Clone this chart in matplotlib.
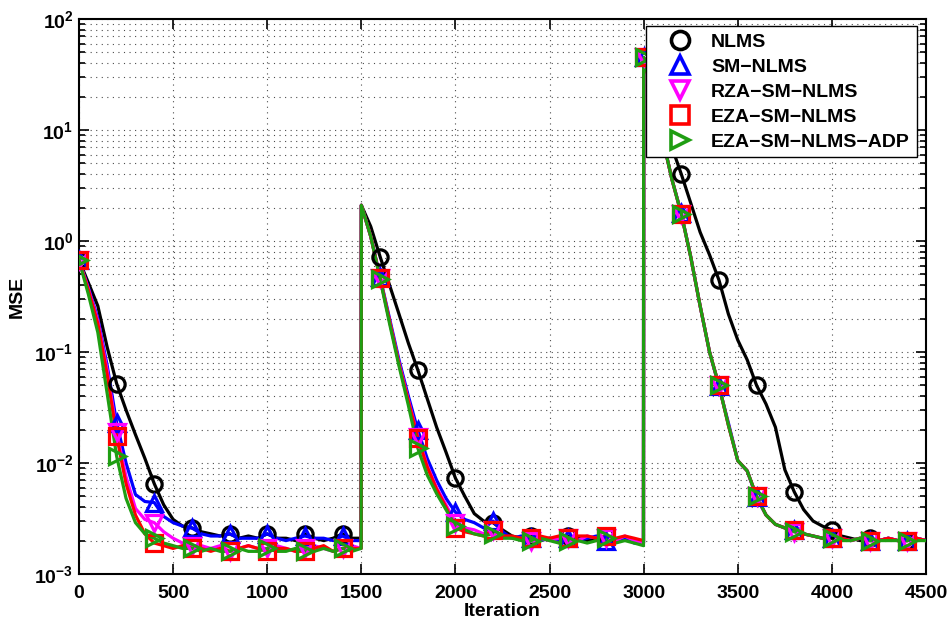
import numpy as np
import matplotlib
matplotlib.use("Agg")
import matplotlib.pyplot as plt
from matplotlib.lines import Line2D
from matplotlib.ticker import LogLocator, FixedLocator, NullLocator

plt.rcParams['font.family'] = ['Liberation Sans', 'DejaVu Sans']
plt.rcParams['font.weight'] = 'bold'
plt.rcParams['mathtext.fontset'] = 'custom'
plt.rcParams['mathtext.rm'] = 'Liberation Sans:bold'
plt.rcParams['mathtext.bf'] = 'Liberation Sans:bold'
plt.rcParams['mathtext.it'] = 'Liberation Sans:bold'
plt.rcParams['mathtext.default'] = 'bf'

# ---- iteration grid (three 1500-sample blocks, jump at 1500 and 3000) ----
seg1_x = list(range(0, 1500, 50)) + [1499]
seg2_x = list(range(1500, 3000, 50)) + [2999]
seg3_x = list(range(3000, 4550, 50))
iters = np.array(seg1_x + seg2_x + seg3_x)

# ---- MSE values ----
nlms = [0.67, 0.42, 0.26, 0.11, 0.052, 0.030, 0.018, 0.011, 0.0065, 0.0042, 0.0031, 0.0027, 0.0026, 0.0024, 0.0023, 0.0022,
        0.0023, 0.0021, 0.0022, 0.0021, 0.0023, 0.0021, 0.0021, 0.0020, 0.0023, 0.0021, 0.0020, 0.0021, 0.0023, 0.0021, 0.0021,
        2.1, 1.35, 0.72, 0.40, 0.22, 0.12, 0.069, 0.038, 0.021, 0.0125, 0.0073, 0.0050, 0.0035, 0.0030, 0.0029, 0.0025,
        0.0022, 0.0021, 0.0022, 0.0020, 0.0021, 0.0020, 0.0022, 0.0021, 0.0020, 0.0021, 0.0022, 0.0020, 0.0021, 0.0020, 0.0019,
        45.0, 22.0, 12.0, 7.0, 4.0, 2.2, 1.2, 0.75, 0.445, 0.22, 0.128, 0.085, 0.050, 0.034, 0.021, 0.0087,
        0.0055, 0.0038, 0.0030, 0.0027, 0.0025, 0.0022, 0.0021, 0.0020, 0.0021, 0.0020, 0.0021, 0.0020, 0.0020, 0.0021, 0.0020]

sm_nlms = [0.67, 0.38, 0.20, 0.075, 0.023, 0.010, 0.0052, 0.0045, 0.0044, 0.0033, 0.0029, 0.0027, 0.0026, 0.0023, 0.0022, 0.0022,
           0.0023, 0.0021, 0.0021, 0.0021, 0.0023, 0.0021, 0.0020, 0.0021, 0.0022, 0.0021, 0.0021, 0.0020, 0.0022, 0.0020, 0.0020,
           2.1, 1.1, 0.47, 0.20, 0.085, 0.040, 0.0198, 0.011, 0.0070, 0.0048, 0.0036, 0.0031, 0.0029, 0.0026, 0.0030, 0.0024,
           0.0021, 0.0022, 0.0021, 0.0020, 0.0021, 0.0020, 0.0021, 0.0020, 0.0021, 0.0022, 0.0020, 0.0020, 0.0021, 0.0019, 0.0019,
           45.0, 20.0, 8.5, 3.6, 1.78, 0.72, 0.26, 0.10, 0.049, 0.023, 0.0105, 0.0085, 0.0049, 0.0034, 0.0028, 0.0026,
           0.0025, 0.0023, 0.0022, 0.0021, 0.0021, 0.0021, 0.0020, 0.0021, 0.0020, 0.0020, 0.0021, 0.0020, 0.0020, 0.0021, 0.0020]

rza_sm_nlms = [0.67, 0.37, 0.19, 0.068, 0.019, 0.0075, 0.0039, 0.0031, 0.0029, 0.0024, 0.0021, 0.0019, 0.0018, 0.0018, 0.0017, 0.0018,
               0.0016, 0.0017, 0.0018, 0.0017, 0.0017, 0.0018, 0.0017, 0.0016, 0.0017, 0.0018, 0.0017, 0.0016, 0.0017, 0.0018, 0.0017,
               2.1, 1.1, 0.46, 0.19, 0.080, 0.037, 0.0173, 0.0095, 0.0060, 0.0042, 0.0029, 0.0026, 0.0025, 0.0023, 0.0025, 0.0022,
               0.0021, 0.0021, 0.0020, 0.0021, 0.0020, 0.0021, 0.0021, 0.0020, 0.0022, 0.0021, 0.0021, 0.0020, 0.0022, 0.0020, 0.0019,
               45.0, 20.0, 8.5, 3.6, 1.75, 0.72, 0.26, 0.10, 0.050, 0.022, 0.0105, 0.0085, 0.0050, 0.0034, 0.0028, 0.0026,
               0.0024, 0.0023, 0.0022, 0.0021, 0.0021, 0.0021, 0.0020, 0.0021, 0.0020, 0.0020, 0.0021, 0.0020, 0.0020, 0.0021, 0.0020]

eza_sm_nlms = [0.67, 0.36, 0.18, 0.062, 0.0175, 0.0065, 0.0034, 0.0023, 0.0019, 0.0018, 0.0017, 0.0018, 0.0017, 0.0017, 0.0016, 0.0017,
               0.0016, 0.0017, 0.0018, 0.0017, 0.0016, 0.0017, 0.0017, 0.0016, 0.0016, 0.0017, 0.0018, 0.0016, 0.0017, 0.0017, 0.0017,
               2.1, 1.1, 0.46, 0.19, 0.078, 0.036, 0.0168, 0.0092, 0.0058, 0.0040, 0.0026, 0.0024, 0.0023, 0.0022, 0.0025, 0.0022,
               0.0022, 0.0021, 0.0021, 0.0022, 0.0021, 0.0022, 0.0021, 0.0022, 0.0022, 0.0021, 0.0022, 0.0021, 0.0022, 0.0021, 0.0020,
               45.0, 20.0, 8.5, 3.6, 1.75, 0.72, 0.26, 0.10, 0.050, 0.022, 0.0105, 0.0085, 0.0050, 0.0034, 0.0028, 0.0026,
               0.0025, 0.0023, 0.0022, 0.0021, 0.0021, 0.0021, 0.0020, 0.0021, 0.0020, 0.0020, 0.0021, 0.0020, 0.0020, 0.0021, 0.0020]

eza_sm_nlms_adp = [0.67, 0.33, 0.15, 0.042, 0.0115, 0.0048, 0.0029, 0.0023, 0.0021, 0.0019, 0.0018, 0.0017, 0.0017, 0.0016, 0.0017, 0.0016,
                   0.0016, 0.0017, 0.0016, 0.0016, 0.0017, 0.0016, 0.0016, 0.0017, 0.0016, 0.0016, 0.0017, 0.0016, 0.0017, 0.0016, 0.0017,
                   2.1, 1.1, 0.45, 0.18, 0.075, 0.033, 0.0136, 0.0078, 0.0053, 0.0038, 0.0027, 0.0025, 0.0023, 0.0022, 0.0023, 0.0021,
                   0.0021, 0.0020, 0.0020, 0.0021, 0.0020, 0.0019, 0.0020, 0.0020, 0.0019, 0.0020, 0.0021, 0.0019, 0.0020, 0.0019, 0.0018,
                   45.0, 20.0, 8.5, 3.6, 1.75, 0.72, 0.26, 0.10, 0.050, 0.022, 0.0105, 0.0085, 0.0050, 0.0034, 0.0028, 0.0026,
                   0.0024, 0.0023, 0.0022, 0.0021, 0.0021, 0.0020, 0.0020, 0.0021, 0.0020, 0.0020, 0.0020, 0.0020, 0.0020, 0.0020, 0.0020]

labels = ['NLMS', 'SM\u2212NLMS', 'RZA\u2212SM\u2212NLMS', 'EZA\u2212SM\u2212NLMS', 'EZA\u2212SM\u2212NLMS\u2212ADP']
colors = ['black', '#0000ff', '#ff00ff', '#ff0000', '#1f9e12']
markers = ['o', '^', 'v', 's', '>']
x_ticks = [0, 500, 1000, 1500, 2000, 2500, 3000, 3500, 4000, 4500]

series = [nlms, sm_nlms, rza_sm_nlms, eza_sm_nlms, eza_sm_nlms_adp]

fig = plt.figure(figsize=(9.5, 6.26), dpi=100)
ax = fig.add_axes([79/950, 52/626, 847/950, 555/626])

mark = (iters % 200) == 0
for y, c, m in zip(series, colors, markers):
    y = np.array(y)
    ax.plot(iters, y, color=c, lw=2.3, zorder=3)
    ax.plot(iters[mark], y[mark], ls='none', marker=m, ms=11, mew=2.3,
            mfc='none', mec=c, zorder=4)

ax.set_yscale('log')
ax.set_xlim(0, 4500)
ax.set_ylim(1e-3, 1e2)
ax.xaxis.set_major_locator(FixedLocator(x_ticks))
ax.xaxis.set_minor_locator(NullLocator())
ax.yaxis.set_major_locator(LogLocator(base=10, numticks=10))
ax.yaxis.set_minor_locator(LogLocator(base=10, subs=np.arange(2, 10), numticks=20))
ax.tick_params(which='both', direction='in', top=True, right=True, labelsize=14, width=1.2)
ax.tick_params(which='major', length=7)
ax.tick_params(which='minor', length=4)
ax.tick_params(axis='x', which='major', pad=8)
ax.tick_params(axis='y', which='major', pad=4)
for lab in ax.get_xticklabels():
    lab.set_fontweight('bold')

grid_kw = dict(color='0.3', linestyle=(0, (1, 4)), linewidth=0.8)
ax.grid(True, which='major', axis='both', **grid_kw)
ax.grid(True, which='minor', axis='y', **grid_kw)
for s in ax.spines.values():
    s.set_linewidth(1.5)

ax.set_xlabel('Iteration', fontsize=14, fontweight='bold', labelpad=1)
ax.set_ylabel('MSE', fontsize=14, fontweight='bold', labelpad=6)

handles = [Line2D([], [], ls='none', marker=m, ms=13, mew=2.6, mfc='none', mec=c)
           for m, c in zip(markers, colors)]
leg = ax.legend(handles, labels, loc='upper right', bbox_to_anchor=(0.989, 0.987),
                borderaxespad=0, fancybox=False, framealpha=1, edgecolor='black',
                prop={'size': 14, 'weight': 'bold'}, handlelength=2.8, handletextpad=0.2,
                labelspacing=0.38, borderpad=0.35)
leg.get_frame().set_linewidth(1.0)
leg.set_zorder(10)

fig.savefig('out.png', dpi=100)
